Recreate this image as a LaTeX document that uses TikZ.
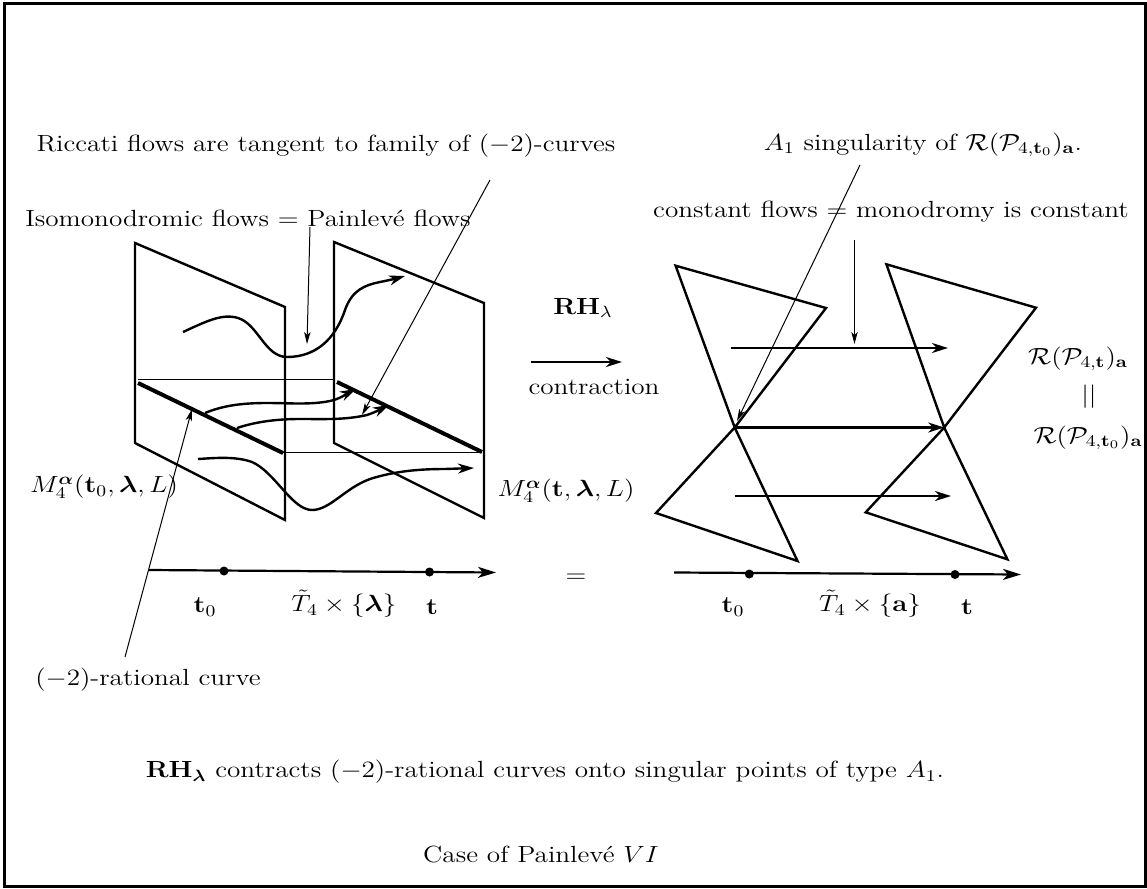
\RequirePackage{fix-cm}
\documentclass[tikz,border=0pt]{standalone}
\usepackage{amsmath,amssymb,bm}
\usetikzlibrary{arrows.meta}
\begin{document}
\begin{tikzpicture}[x=0.5pt,y=-0.5pt,
  lbl/.style={font=\fontsize{13.6}{16}\selectfont, inner sep=0pt, yscale=0.86},
  plane/.style={line width=1.2pt, line join=miter},
  flow/.style={line width=1.2pt, -{Stealth[length=8pt,width=5pt,inset=2.5pt]}},
  axisline/.style={line width=1.1pt, -{Stealth[length=9pt,width=5.5pt,inset=2.5pt]}},
  ptr/.style={line width=0.5pt, -{Stealth[length=6pt,width=3.2pt,inset=1.5pt]}},
  fine/.style={line width=0.5pt},
  heavy/.style={line width=2pt},
  dotmark/.style={fill=black}]
\useasboundingbox (0,0) rectangle (1147,889);
\draw[line width=1.5pt] (4,3) rectangle (1145,886);

% ---------------- labels ----------------
\node[lbl] (ric) at (326,146) {Riccati flows are tangent to family of $(-2)$-curves};
\node[lbl] (iso) at (248,218) {Isomonodromic flows $=$ Painlev\'e flows};
\node[lbl] (m0) at (104,487) {$M_4^{\bm\alpha}(\mathbf{t}_0,\bm\lambda,L)$};
\node[lbl] (m1) at (566,491) {$M_4^{\bm\alpha}(\mathbf{t},\bm\lambda,L)$};
\node[lbl] (lt0) at (205,607) {$\mathbf{t}_0$};
\node[lbl] (lT) at (344,604) {$\tilde T_4\times\{\bm\lambda\}$};
\node[lbl] (lt) at (432,607) {$\mathbf{t}$};
\node[lbl] (rat) at (148,680) {$(-2)$-rational curve};
\node[lbl] (rh) at (583,308) {$\mathbf{RH}_\lambda$};
\node[lbl] (con) at (594,387) {contraction};
\node[lbl] (eq) at (576,578) {$=$};
\node[lbl] (a1) at (923,145) {$A_1$ singularity of $\mathcal{R}(\mathcal{P}_{4,\mathbf{t}_0})_{\mathbf{a}}$.};
\node[lbl] (cst) at (891,212) {constant flows $=$ monodromy is constant};
\node[lbl] (r1) at (1078,359) {$\mathcal{R}(\mathcal{P}_{4,\mathbf{t}})_{\mathbf{a}}$};
\node[lbl] (bars) at (1089,397) {$||$};
\node[lbl] (r0) at (1088,438) {$\mathcal{R}(\mathcal{P}_{4,\mathbf{t}_0})_{\mathbf{a}}$};
\node[lbl] (rt0) at (733,607) {$\mathbf{t}_0$};
\node[lbl] (rT) at (870,604) {$\tilde T_4\times\{\mathbf{a}\}$};
\node[lbl] (rt) at (967,607) {$\mathbf{t}$};
\node[lbl] (cap) at (545,772) {$\mathbf{RH}_{\bm\lambda}$ contracts $(-2)$-rational curves onto singular points of type $A_1$.};
\node[lbl] (case) at (541,855) {Case of Painlev\'e $VI$};

% ---------------- left: two planes ----------------
\draw[plane] (135,243) -- (285,307) -- (285,520) -- (135,443) -- cycle;
\draw[plane] (334,242) -- (484,303) -- (484,518) -- (334,443) -- cycle;
\draw[fine] (138,379) -- (335,379);
\draw[fine] (283,452) -- (482,452);
\draw[heavy] (138,383) -- (283,453);
\draw[heavy] (337,382) -- (482,452);

% flows
\draw[flow] (183,332) .. controls (205,322) and (222,313) .. (238,318)
  .. controls (258,324) and (265,357) .. (287,357)
  .. controls (315,357) and (335,340) .. (345,310)
  .. controls (352,290) and (365,285) .. (380,282)
  .. controls (390,280) and (398,278) .. (405,276);
\draw[flow] (205,413) .. controls (222,406) and (240,403) .. (267,403)
  .. controls (290,403) and (310,405) .. (330,401)
  .. controls (340,399) and (348,393) .. (356,389);
\draw[flow] (237,428) .. controls (252,423) and (272,419) .. (300,419)
  .. controls (325,419) and (345,420) .. (367,415)
  .. controls (376,412) and (383,408) .. (389,405);
\draw[flow] (198,459) .. controls (215,458) and (235,456) .. (252,462)
  .. controls (275,472) and (292,510) .. (312,510)
  .. controls (330,510) and (345,488) .. (370,479)
  .. controls (395,471) and (420,469) .. (445,469)
  -- (474,468);

% pointers (left)
\coordinate (isoS) at (310,227);
\coordinate (isoE) at (307,344);
\draw[ptr] (isoS) -- (isoE);
\coordinate (ricS) at (490,180);
\coordinate (ricE) at (362,415);
\draw[ptr] (ricS) -- (ricE);
\coordinate (ratS) at (125,657);
\coordinate (ratE) at (192,409);
\draw[ptr] (ratS) -- (ratE);

% left axis
\coordinate (axL0) at (149,570);
\coordinate (axL1) at (496,572.5);
\draw[axisline] (axL0) -- (axL1);
\fill[dotmark] (224,571) circle (4.5);
\fill[dotmark] (429.5,572) circle (4.5);

% middle arrow
\coordinate (mA) at (531,362);
\coordinate (mB) at (622,362);
\draw[flow] (mA) -- (mB);

% ---------------- right: bow ties ----------------
\coordinate (X1) at (734.7,427.5);
\coordinate (X2) at (944.2,427.5);
\draw[plane] (675.6,265.7) -- (826,308) -- (X1) -- (656,513) -- (797.5,561) -- (X1) -- cycle;
\draw[plane] (886.4,264.3) -- (1036,307.7) -- (X2) -- (865.7,512.3) -- (1007.4,559.3) -- (X2) -- cycle;

\coordinate (fa0) at (730.6,348);
\coordinate (fa1) at (948,348);
\draw[flow] (fa0) -- (fa1);
\draw[flow] (X1) -- (X2);
\coordinate (fc0) at (734.7,496);
\coordinate (fc1) at (951,496);
\draw[flow] (fc0) -- (fc1);

\coordinate (cstS) at (854.5,240);
\coordinate (cstE) at (854.5,344);
\draw[ptr] (cstS) -- (cstE);
\coordinate (a1S) at (860,165);
\coordinate (a1E) at (737,421);
\draw[ptr] (a1S) -- (a1E);

% right axis
\coordinate (axR0) at (674,572.5);
\coordinate (axR1) at (1021,574.5);
\draw[axisline] (axR0) -- (axR1);
\fill[dotmark] (749.3,574) circle (4.5);
\fill[dotmark] (955,574.5) circle (4.5);
\end{tikzpicture}
\end{document}
